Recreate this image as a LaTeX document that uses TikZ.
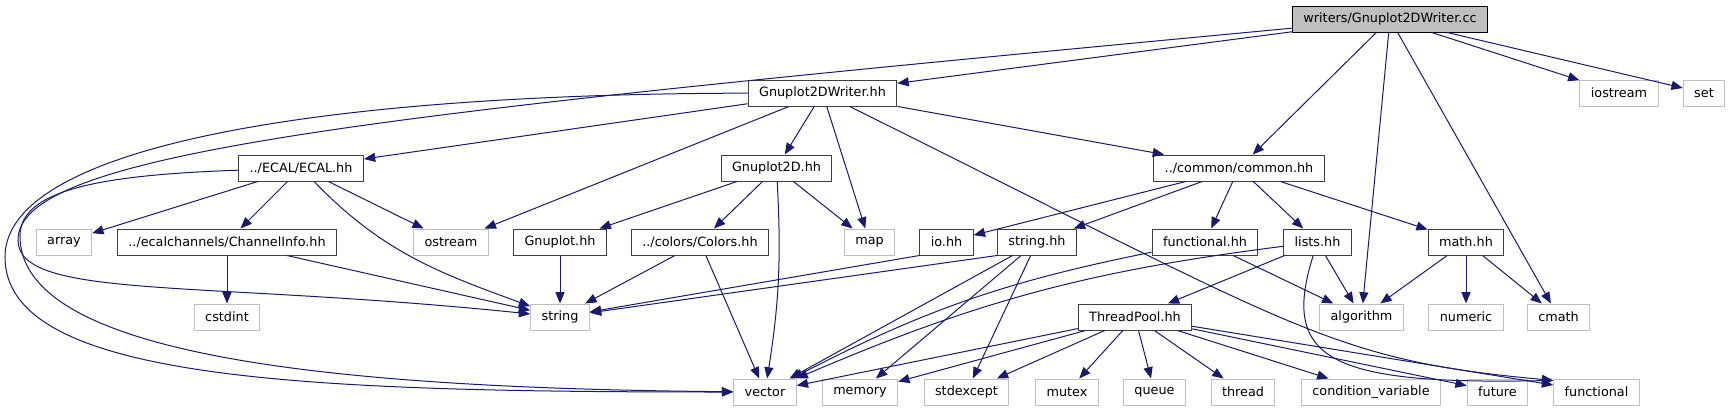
\documentclass[tikz,border=0pt]{standalone}
\usepackage{fontspec}
\setmainfont{DejaVu Sans}
\usetikzlibrary{arrows.meta}
\definecolor{ink}{HTML}{404040}
\definecolor{sysgrey}{HTML}{BFBFBF}
\definecolor{rootgrey}{HTML}{BFBFBF}
\definecolor{midnight}{HTML}{191970}
\tikzset{
  >={Triangle[length=8.5pt,width=6.8pt]},
  every node/.style={font=\fontsize{9.6}{11.5}\selectfont,text=black},
  hdr/.style={draw=ink,line width=0.75pt,fill=white,minimum height=19.5pt,inner xsep=8.2pt,inner ysep=0pt},
  sys/.style={hdr,draw=sysgrey},
  rootfile/.style={hdr,fill=rootgrey,draw=black},
  dep/.style={->,line width=0.75pt,draw=midnight},
}

\begin{document}
\begin{tikzpicture}[x=0.75pt,y=-0.75pt]
\useasboundingbox (0,0) rectangle (1731,411);

% file being documented
\node[rootfile] (root) at (1390,19) {writers/Gnuplot2DWriter.cc};

% direct includes
\node[hdr] (writerhh) at (822.5,93) {Gnuplot2DWriter.hh};
\node[sys] (iostream) at (1619,93) {iostream};
\node[sys] (set) at (1704,93) {set};

\node[hdr] (ecal) at (301,168) {../ECAL/ECAL.hh};
\node[hdr] (gp2d) at (776.5,168) {Gnuplot2D.hh};
\node[hdr] (common) at (1239,168) {../common/common.hh};

\node[sys] (array) at (64,242) {array};
\node[hdr] (chinfo) at (227,242) {../ecalchannels/ChannelInfo.hh};
\node[sys] (ostream) at (451,242) {ostream};
\node[hdr] (gnuplot) at (560,242) {Gnuplot.hh};
\node[hdr] (colors) at (700,242) {../colors/Colors.hh};
\node[sys] (map) at (869.5,242) {map};
\node[hdr] (io) at (946.5,242) {io.hh};
\node[hdr] (stringhh) at (1037,242) {string.hh};
\node[hdr] (funchh) at (1205,242) {functional.hh};
\node[hdr] (lists) at (1317.5,242) {lists.hh};
\node[hdr] (math) at (1466,242) {math.hh};

\node[sys] (cstdint) at (227,317) {cstdint};
\node[sys] (string) at (560,317) {string};
\node[hdr] (pool) at (1135,317) {ThreadPool.hh};
\node[sys] (algorithm) at (1361.5,317) {algorithm};
\node[sys] (numeric) at (1466,317) {numeric};
\node[sys] (cmath) at (1558.5,317) {cmath};

% system headers, bottom row
\node[sys] (vector) at (765,392) {vector};
\node[sys] (memory) at (860,392) {memory};
\node[sys] (stdexcept) at (966.5,392) {stdexcept};
\node[sys] (mutex) at (1067,392) {mutex};
\node[sys] (queue) at (1154.5,392) {queue};
\node[sys] (thread) at (1243,392) {thread};
\node[sys] (condvar) at (1371,392) {condition\_variable};
\node[sys] (future) at (1497.5,392) {future};
\node[sys] (functional) at (1596.5,392) {functional};

% turning points of the long curves on the left
\coordinate (wturn) at (5,257);
\coordinate (rturn) at (18,240);
\coordinate (eturn) at (20,236);

% root
\draw[dep] (root) -- (writerhh);
\draw[dep] (root) .. controls (390,113) and (18,150) .. (rturn) .. controls (18,300) and (200,280) .. (string);
\draw[dep] (root) -- (common);
\draw[dep] (root) -- (algorithm);
\draw[dep] (root) -- (cmath);
\draw[dep] (root) -- (iostream);
\draw[dep] (root) -- (set);

% Gnuplot2DWriter.hh
\draw[dep] (writerhh) -- (ecal);
\draw[dep] (writerhh) .. controls (300,94) and (5,150) .. (wturn) .. controls (5,380) and (300,392) .. (vector);
\draw[dep] (writerhh) -- (ostream);
\draw[dep] (writerhh) -- (gp2d);
\draw[dep] (writerhh) -- (map);
\draw[dep] (writerhh) .. controls (1300,330) and (1330,360) .. (functional.165);
\draw[dep] (writerhh) -- (common);

% ECAL
\draw[dep] (ecal) .. controls (100,175) and (20,190) .. (eturn) .. controls (20,350) and (300,388) .. (vector);
\draw[dep] (ecal) -- (array);
\draw[dep] (ecal) -- (chinfo);
\draw[dep] (ecal) to[out=-46,in=160] (string);
\draw[dep] (ecal) -- (ostream);
\draw[dep] (chinfo) -- (cstdint);
\draw[dep] (chinfo) -- (string);

% Gnuplot2D
\draw[dep] (gp2d) -- (gnuplot);
\draw[dep] (gp2d) -- (colors);
\draw[dep] (gp2d) to[bend left=6] (vector);
\draw[dep] (gp2d) -- (map);
\draw[dep] (gnuplot) -- (string);
\draw[dep] (colors) -- (string);
\draw[dep] (colors) -- (vector);

% common
\draw[dep] (common) -- (io);
\draw[dep] (common) -- (stringhh);
\draw[dep] (common) -- (funchh);
\draw[dep] (common) -- (lists);
\draw[dep] (common) -- (math);
\draw[dep] (io.south west) -- (string);
\draw[dep] (stringhh.south west) -- (string);
\draw[dep] (stringhh) -- (vector);
\draw[dep] (stringhh) -- (memory);
\draw[dep] (stringhh) -- (stdexcept);
\draw[dep] (funchh) to[bend right=8] (vector);
\draw[dep] (funchh) -- (algorithm);
\draw[dep] (lists) to[bend right=8] (vector);
\draw[dep] (lists) -- (pool);
\draw[dep] (lists) -- (algorithm);
\draw[dep] (lists) .. controls (1280,360) and (1330,385) .. (functional.165);
\draw[dep] (math) -- (algorithm);
\draw[dep] (math) -- (numeric);
\draw[dep] (math) -- (cmath);

% ThreadPool
\draw[dep] (pool) -- (vector);
\draw[dep] (pool) -- (memory);
\draw[dep] (pool) -- (stdexcept);
\draw[dep] (pool) -- (mutex);
\draw[dep] (pool) -- (queue);
\draw[dep] (pool) -- (thread);
\draw[dep] (pool) -- (condvar);
\draw[dep] (pool) -- (future);
\draw[dep] (pool) -- (functional);

\end{tikzpicture}
\end{document}
